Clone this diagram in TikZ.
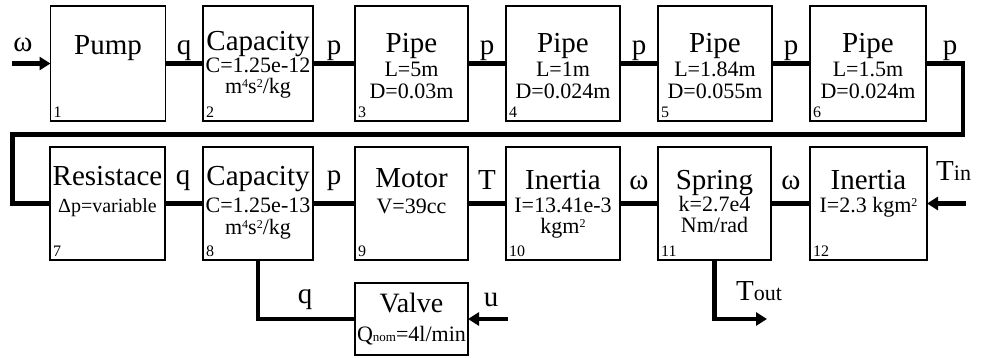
\documentclass[tikz,border=0pt]{standalone}
\usepackage{fontspec}
\setmainfont{Liberation Serif}
\usetikzlibrary{arrows.meta}
\newcommand\supx[1]{{\fontsize{12}{12}\selectfont\raisebox{6pt}{#1}}}
\begin{document}
\begin{tikzpicture}[x=1pt,y=-1pt,
  box/.style={draw, line width=1.6pt, inner sep=0pt, outer sep=0pt},
  conn/.style={line width=4.5pt},
  arr/.style={line width=4.5pt, -{Triangle[length=11pt,width=13pt]}},
  ttl/.style={font=\fontsize{29}{30}\selectfont, anchor=base, inner sep=0pt},
  sub/.style={font=\fontsize{22}{22}\selectfont, anchor=base, inner sep=0pt},
  num/.style={font=\fontsize{16}{16}\selectfont, anchor=base west, inner sep=0pt},
  lbl/.style={font=\fontsize{29}{30}\selectfont, anchor=base, inner sep=0pt}]
\useasboundingbox (0,0) rectangle (981,357);
% top row boxes
\node[box, minimum width=115pt, minimum height=115pt] (b1) at (108,63.5) {};
\node[box, minimum width=110pt, minimum height=115pt] (b2) at (258,63.5) {};
\node[box, minimum width=113pt, minimum height=115pt] (b3) at (411.5,63.5) {};
\node[box, minimum width=114pt, minimum height=115pt] (b4) at (563,63.5) {};
\node[box, minimum width=114pt, minimum height=115pt] (b5) at (715,63.5) {};
\node[box, minimum width=116pt, minimum height=115pt] (b6) at (868,63.5) {};
% bottom row boxes
\node[box, minimum width=115pt, minimum height=113pt] (b7) at (107.5,203.5) {};
\node[box, minimum width=110pt, minimum height=113pt] (b8) at (258,203.5) {};
\node[box, minimum width=113pt, minimum height=113pt] (b9) at (411.5,203.5) {};
\node[box, minimum width=114pt, minimum height=113pt] (b10) at (563,203.5) {};
\node[box, minimum width=113pt, minimum height=113pt] (b11) at (714.5,203.5) {};
\node[box, minimum width=117pt, minimum height=113pt] (b12) at (868.5,203.5) {};
\node[box, minimum width=113pt, minimum height=72pt] (vl) at (411.5,319) {};
% coordinates
\coordinate (win) at (12,63.5);
\coordinate (c1) at (963,63.5);
\coordinate (c2) at (963,134.5);
\coordinate (c3) at (12.5,134.5);
\coordinate (c4) at (12.5,203.5);
\coordinate (tin) at (966,203.5);
\coordinate (uin) at (508,319);
\coordinate (v1) at (258,319);
\coordinate (t1) at (714.5,319);
\coordinate (tout) at (767,319);
% connectors
\draw[arr] (win) -- (b1.west);
\draw[conn] (b1.east) -- (b2.west);
\draw[conn] (b2.east) -- (b3.west);
\draw[conn] (b3.east) -- (b4.west);
\draw[conn] (b4.east) -- (b5.west);
\draw[conn] (b5.east) -- (b6.west);
\draw[conn, line join=miter] (b6.east) -- (c1) -- (c2) -- (c3) -- (c4) -- (b7.west);
\draw[conn] (b7.east) -- (b8.west);
\draw[conn] (b8.east) -- (b9.west);
\draw[conn] (b9.east) -- (b10.west);
\draw[conn] (b10.east) -- (b11.west);
\draw[conn] (b11.east) -- (b12.west);
\draw[arr] (tin) -- (b12.east);
\draw[conn, line join=miter] (b8.south) -- (v1) -- (vl.west);
\draw[arr] (uin) -- (vl.east);
\draw[arr, line join=miter] (b11.south) -- (t1) -- (tout);
% connector labels
\node[lbl] (lw) at (23,51) {ω};
\node[lbl] (lq1) at (184,54) {q};
\node[lbl] (lp1) at (334,54) {p};
\node[lbl] (lp2) at (487,54) {p};
\node[lbl] (lp3) at (639,54) {p};
\node[lbl] (lp4) at (791,54) {p};
\node[lbl] (lp5) at (950,54) {p};
\node[lbl] (lq2) at (183,184) {q};
\node[lbl] (lp6) at (334,184) {p};
\node[lbl] (lT) at (487,189) {T};
\node[lbl] (lw2) at (639,189) {ω};
\node[lbl] (lw3) at (791,189) {ω};
\node[lbl, anchor=base west] (lTin) at (936,180) {T\fontsize{22}{22}\selectfont in};
\node[lbl] (lq3) at (305,303) {q};
\node[lbl] (lu) at (491,306) {u};
\node[lbl, anchor=base west] (lTout) at (736,300) {T\fontsize{22}{22}\selectfont out};
% box texts top
\node[ttl] (t1a) at (b1.center |- 0,54) {Pump};
\node[num] (n1) at ([xshift=3pt,yshift=4pt]b1.south west) {1};
\node[ttl] (t2a) at (b2.center |- 0,50) {Capacity};
\node[sub] (t2b) at (b2.center |- 0,72) {C=1.25e-12};
\node[sub] (t2c) at (b2.center |- 0,93) {m\supx{4}s\supx{2}/kg};
\node[num] (n2) at ([xshift=3pt,yshift=4pt]b2.south west) {2};
\node[ttl] (t3a) at (b3.center |- 0,52) {Pipe};
\node[sub] (t3b) at (b3.center |- 0,76) {L=5m};
\node[sub] (t3c) at (b3.center |- 0,98) {D=0.03m};
\node[num] (n3) at ([xshift=3pt,yshift=4pt]b3.south west) {3};
\node[ttl] (t4a) at (b4.center |- 0,52) {Pipe};
\node[sub] (t4b) at (b4.center |- 0,76) {L=1m};
\node[sub] (t4c) at (b4.center |- 0,98) {D=0.024m};
\node[num] (n4) at ([xshift=3pt,yshift=4pt]b4.south west) {4};
\node[ttl] (t5a) at (b5.center |- 0,52) {Pipe};
\node[sub] (t5b) at (b5.center |- 0,76) {L=1.84m};
\node[sub] (t5c) at (b5.center |- 0,98) {D=0.055m};
\node[num] (n5) at ([xshift=3pt,yshift=4pt]b5.south west) {5};
\node[ttl] (t6a) at (b6.center |- 0,52) {Pipe};
\node[sub] (t6b) at (b6.center |- 0,76) {L=1.5m};
\node[sub] (t6c) at (b6.center |- 0,98) {D=0.024m};
\node[num] (n6) at ([xshift=3pt,yshift=4pt]b6.south west) {6};
% box texts bottom
\node[ttl] (t7a) at (b7.center |- 0,185) {Resistace};
\node[sub, font=\fontsize{20}{20}\selectfont] (t7b) at (b7.center |- 0,212) {Δp=variable};
\node[num] (n7) at ([xshift=3pt,yshift=4pt]b7.south west) {7};
\node[ttl] (t8a) at (b8.center |- 0,185) {Capacity};
\node[sub] (t8b) at (b8.center |- 0,212) {C=1.25e-13};
\node[sub] (t8c) at (b8.center |- 0,234) {m\supx{4}s\supx{2}/kg};
\node[num] (n8) at ([xshift=3pt,yshift=4pt]b8.south west) {8};
\node[ttl] (t9a) at (b9.center |- 0,187) {Motor};
\node[sub] (t9b) at (b9.center |- 0,213) {V=39cc};
\node[num] (n9) at ([xshift=3pt,yshift=4pt]b9.south west) {9};
\node[ttl] (t10a) at (b10.center |- 0,189) {Inertia};
\node[sub] (t10b) at (b10.center |- 0,212) {I=13.41e-3};
\node[sub] (t10c) at (b10.center |- 0,233) {kgm\supx{2}};
\node[num] (n10) at ([xshift=3pt,yshift=4pt]b10.south west) {10};
\node[ttl] (t11a) at (b11.center |- 0,189) {Spring};
\node[sub] (t11b) at (b11.center |- 0,211) {k=2.7e4};
\node[sub] (t11c) at (b11.center |- 0,232) {Nm/rad};
\node[num] (n11) at ([xshift=3pt,yshift=4pt]b11.south west) {11};
\node[ttl] (t12a) at (b12.center |- 0,189) {Inertia};
\node[sub] (t12b) at (b12.center |- 0,212) {I=2.3 kgm\supx{2}};
\node[num] (n12) at ([xshift=3pt,yshift=4pt]b12.south west) {12};
% valve
\node[ttl, font=\fontsize{28}{29}\selectfont] (tva) at (vl.center |- 0,312) {Valve};
\node[sub] (tvb) at (vl.center |- 0,341) {Q{\fontsize{13}{13}\selectfont nom}=4l/min};
\end{tikzpicture}
\end{document}
